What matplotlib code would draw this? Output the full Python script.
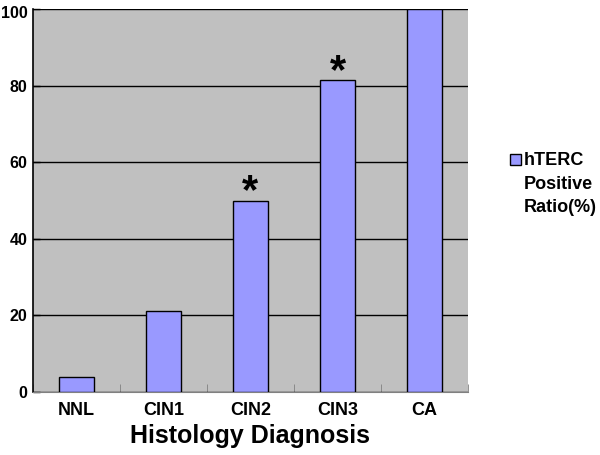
import matplotlib
matplotlib.use("Agg")
import matplotlib.pyplot as plt
from matplotlib.patches import Rectangle
from matplotlib.transforms import ScaledTranslation
import numpy as np

categories = ["NNL", "CIN1", "CIN2", "CIN3", "CA"]
values = [3.9, 21.2, 50.0, 81.5, 100.0]
significant = [False, False, True, True, False]
yticks = [0, 20, 40, 60, 80, 100]
legend_lines = ["hTERC", "Positive", "Ratio(%)"]
xlabel = "Histology Diagnosis"

plt.rcParams['font.family'] = ['Liberation Sans', 'DejaVu Sans']

W, H = 600, 455
fig = plt.figure(figsize=(W / 100, H / 100), dpi=100)
left, right, top, bottom = 33, 468, 9, 392
ax = fig.add_axes([left / W, 1 - bottom / H, (right - left) / W, (bottom - top) / H])
ax.set_facecolor('#c0c0c0')

bar_color = '#9999ff'
x = np.arange(len(categories))
ax.bar(x, values, width=0.41, color=bar_color, edgecolor='black', linewidth=1.0, zorder=3)

ax.set_xlim(-0.5, len(categories) - 0.5)
ax.set_ylim(0, 100)
ax.set_yticks(yticks)
ax.set_yticklabels([str(t) for t in yticks], fontsize=11.5, fontweight='bold')
ax.yaxis.grid(True, color='black', linewidth=1.0, zorder=1)
ax.set_axisbelow(True)
ax.tick_params(axis='y', direction='in', length=5, width=1, pad=4, color='black')
# nudge the top label so it stays inside the image
toplab = ax.get_yticklabels()[-1]
toplab.set_transform(toplab.get_transform() + ScaledTranslation(0, -2 / 72, fig.dpi_scale_trans))

ax.set_xticks(x)
ax.set_xticklabels(categories, fontsize=13, fontweight='bold')
ax.tick_params(axis='x', which='major', length=0, pad=7.5)
ax.set_xticks(np.arange(len(categories) + 1) - 0.5, minor=True)
ax.tick_params(axis='x', which='minor', direction='in', length=6, color='#808080')

for s in ['top', 'right']:
    ax.spines[s].set_visible(False)
ax.spines['left'].set_linewidth(1.2)
ax.spines['bottom'].set_color('#808080')

ax.set_xlabel(xlabel, fontsize=18, fontweight='bold', labelpad=3.5)

for xi, v, sig in zip(x, values, significant):
    if sig:
        ax.annotate("*", (xi, v), xytext=(0, -2), textcoords='offset points',
                    ha='center', va='baseline', fontsize=30, fontweight='bold', zorder=5)

# legend (drawn manually to match layout)
fig.patches.append(Rectangle((509.5 / W, 1 - 164.5 / H), 11 / W, 11 / H, transform=fig.transFigure,
                             facecolor=bar_color, edgecolor='black', linewidth=1.0))
baselines = [165, 188.5, 212]
for line, b in zip(legend_lines, baselines):
    fig.text(524 / W, 1 - b / H, line, fontsize=13, fontweight='bold', ha='left', va='baseline')

fig.savefig("out.png", dpi=100)
